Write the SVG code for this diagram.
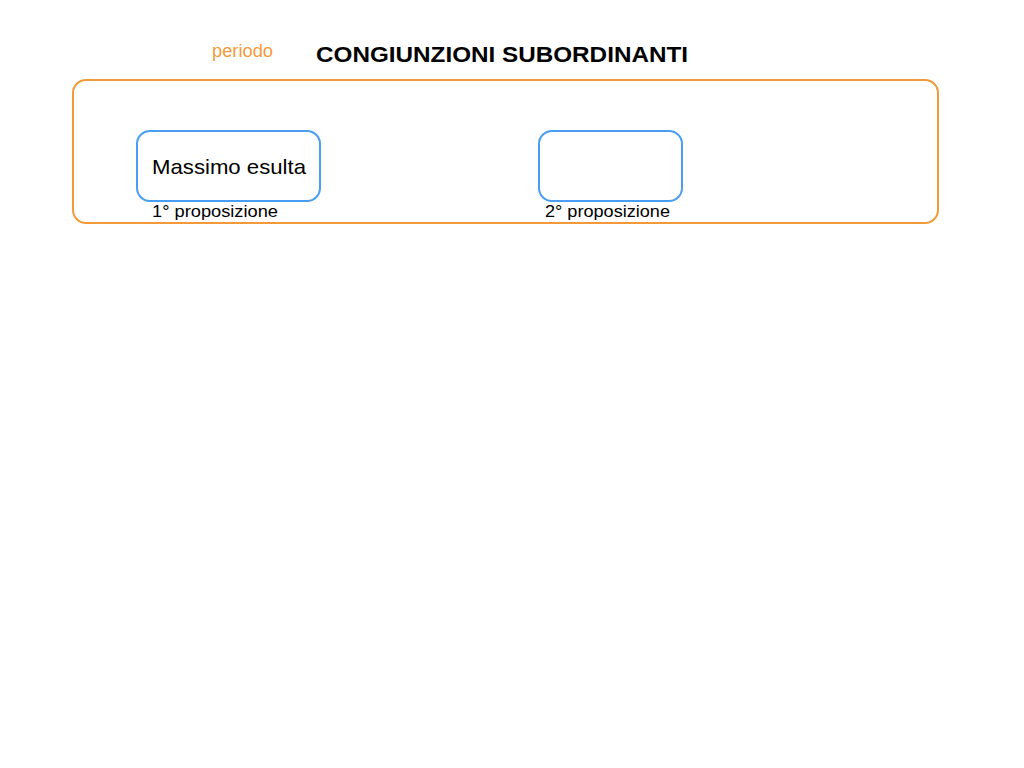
<svg xmlns="http://www.w3.org/2000/svg" width="1024" height="768" viewBox="0 0 1024 768">
<style>
.t{font-family:"Liberation Sans",Arial,sans-serif;fill:#000}
.box{fill:none;stroke:#4A9EF2;stroke-width:2}
.lbl{font-family:"Liberation Sans",Arial,sans-serif;font-size:17px;fill:#000}
</style>
<rect width="1024" height="768" fill="#fff"/>
<text class="t" x="212" y="57" font-size="17.5" style="fill:#F29A3A" textLength="61" lengthAdjust="spacingAndGlyphs">periodo</text>
<text class="t" x="316" y="62" font-size="22" font-weight="bold" textLength="372" lengthAdjust="spacingAndGlyphs">CONGIUNZIONI SUBORDINANTI</text>
<g id="periodo">
<rect x="73" y="80" width="865" height="143" rx="13" ry="13" fill="none" stroke="#F29A3A" stroke-width="2"/>
</g>
<g id="prop1">
<rect class="box" x="137" y="131" width="183" height="70" rx="13" ry="13"/>
<text class="t" x="152" y="174" font-size="21" textLength="154" lengthAdjust="spacingAndGlyphs">Massimo esulta</text>
<text class="lbl" x="152" y="217" textLength="126" lengthAdjust="spacingAndGlyphs">1° proposizione</text>
</g>
<g id="prop2">
<rect class="box" x="539" y="131" width="143" height="70" rx="13" ry="13"/>
<text class="lbl" x="545" y="217" textLength="125" lengthAdjust="spacingAndGlyphs">2° proposizione</text>
</g>
<g id="connectors"></g>
</svg>
